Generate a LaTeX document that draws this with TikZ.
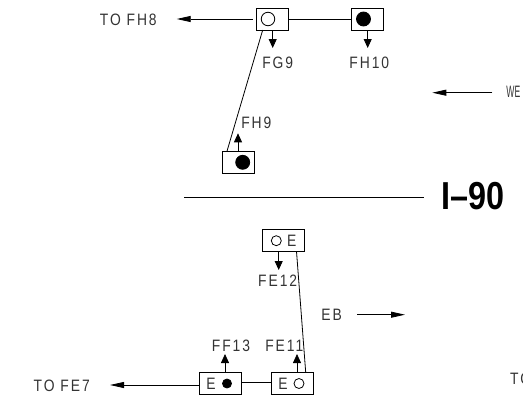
\documentclass[tikz,border=0pt]{standalone}
\usepackage{fontspec}
\setmainfont{Liberation Sans}
\usetikzlibrary{arrows.meta,positioning,calc}
\tikzset{
  ramp/.style={draw,line width=0.9pt,minimum width=32,minimum height=22,inner sep=0,outer sep=0},
  rampwide/.style={ramp,minimum width=42},
  lane/.style={draw,circle,line width=0.8pt,inner sep=0,outer sep=0},
  openbig/.style={lane,minimum size=13.5},
  fillbig/.style={lane,fill=black,minimum size=14},
  opensmall/.style={lane,minimum size=10},
  fillsmall/.style={lane,fill=black,minimum size=9},
  lbl/.style={font=\fontsize{16.5}{16.5}\selectfont\addfontfeatures{LetterSpace=14},xscale=0.84,inner sep=0,text=black!80},
  wire/.style={line width=0.8pt},
  flow/.style={line width=0.8pt,-{Triangle[length=9pt,width=8pt]}},
  dirn/.style={line width=0.8pt,-{Triangle[length=14pt,width=6pt]}}
}
\begin{document}
\begin{tikzpicture}[x=1pt,y=-1pt]
\useasboundingbox (0,0) rectangle (523,402);
% westbound ramps
\node[ramp] (fg) at (272,19) {};
\node[ramp] (fhten) at (367.7,19) {};
\node[ramp] (fhnine) at (238.3,162.2) {};
\node[openbig] (fgl) at (268,19) {};
\node[fillbig] (fhtenl) at (363.5,19) {};
\node[fillbig] (fhninel) at (242.7,162.3) {};
% eastbound ramps
\node[rampwide] (fetw) at (283.2,240.3) {};
\node[rampwide] (ff) at (220.3,383.3) {};
\node[rampwide] (feel) at (292.3,383.3) {};
\node[opensmall] (fetwl) at (276.3,240.7) {};
\node[fillsmall] (ffl) at (227,383.5) {};
\node[opensmall] (feell) at (299,383.5) {};
\node[lbl] (fetwe) at (291.7,240.5) {E};
\node[lbl] (ffe) at (211,383.5) {E};
\node[lbl] (feele) at (283,383.5) {E};
% labels
\node[lbl] (tofh) at (128.3,20) {TO FH8};
\node[lbl] (fgnine) at (277.7,62.5) {FG9};
\node[lbl] (fhtenlab) at (369.3,62.5) {FH10};
\node[lbl] (fhninelab) at (256.3,123) {FH9};
\node[lbl,anchor=west,font=\fontsize{16.5}{16.5}\selectfont,xscale=0.62] (wb) at (506.3,91.7) {WE};
\node[lbl] (fetwlab) at (277.7,280.7) {FE12};
\node[lbl] (eb) at (331.7,314.7) {EB};
\node[lbl] (fflab) at (231,345.7) {FF13};
\node[lbl] (feellab) at (284.3,345.7) {FE11};
\node[lbl] (tofe) at (61.7,386) {TO FE7};
\node[lbl,anchor=west] (to) at (510,378.5) {TO};
\node[font=\bfseries\fontsize{39}{39}\selectfont,xscale=0.83,inner sep=0] (route) at (473.3,195.8) {I--90};
% free ends
\coordinate (fgtip) at (272.7,48);
\coordinate (fhtentip) at (367.7,48);
\coordinate (fhninetip) at (238,133.3);
\coordinate (fetwtip) at (278.7,270);
\coordinate (fftip) at (225,354);
\coordinate (feeltip) at (297,354);
\coordinate (wstart) at (492.3,92.7);
\coordinate (wtip) at (432.3,92.7);
\coordinate (estart) at (357.3,314.7);
\coordinate (etip) at (405,314.7);
\coordinate (medl) at (184,197.3);
\coordinate (medr) at (424,197.3);
\coordinate (fhtip) at (176.7,19);
\coordinate (fetip) at (110,385);
\coordinate (fhgap) at (252.7,19);
% connectors
\draw[wire] (fg) -- (fhten);
\draw[wire] ($(fg.south west)+(6.7,0)$) -- ($(fhnine.north west)+(4.7,0)$);
\draw[wire] ($(fetw.south east)+(-7.7,0)$) -- ($(feel.north east)+(-7.6,0)$);
\draw[wire] (ff.east |- 0,382.7) -- (feel.west |- 0,382.7);
\draw[dirn] (fhgap) -- (fhtip);
\draw[dirn] (ff.west |- fetip) -- (fetip);
\draw[dirn] (wstart) -- (wtip);
\draw[dirn] (estart) -- (etip);
\foreach \a/\b in {fg/fgtip,fhten/fhtentip,fetw/fetwtip} \draw[flow] (\b |- \a.south) -- (\b);
\foreach \a/\b in {fhnine/fhninetip,ff/fftip,feel/feeltip} \draw[flow] (\b |- \a.north) -- (\b);
\draw[wire] (medl) -- (medr);
\end{tikzpicture}
\end{document}
